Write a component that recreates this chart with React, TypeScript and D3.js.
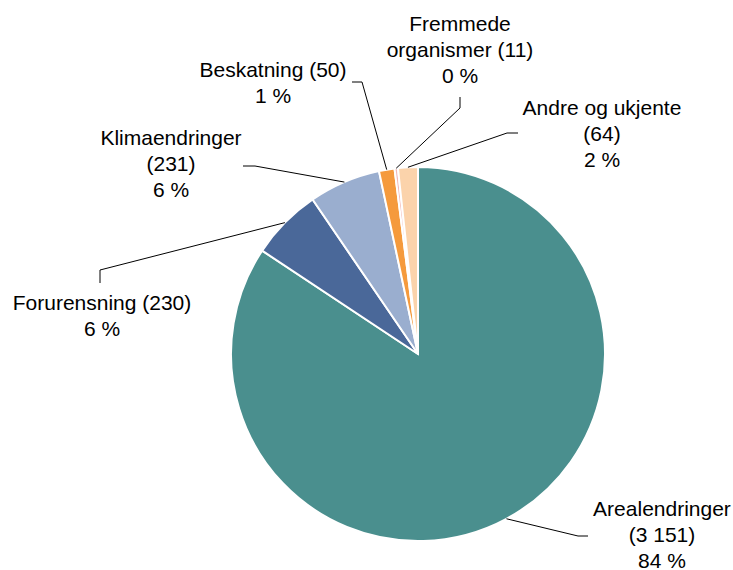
import * as d3 from "d3";

// data
const categories = [
  "Arealendringer",
  "Forurensning",
  "Klimaendringer",
  "Beskatning",
  "Fremmede organismer",
  "Andre og ukjente",
];
const counts = [3151, 230, 231, 50, 11, 64];
const colors = ["#4a8f8e", "#4a6899", "#9aaecf", "#f59a3c", "#f2b9b6", "#fbd3ab"];

// label text lines per slice
const labelLines = [
  ["Arealendringer", "(3 151)", "84 %"],
  ["Forurensning (230)", "6 %"],
  ["Klimaendringer", "(231)", "6 %"],
  ["Beskatning (50)", "1 %"],
  ["Fremmede", "organismer (11)", "0 %"],
  ["Andre og ukjente", "(64)", "2 %"],
];

// layout for leader lines / labels (elbow, end, text anchor)
const layout = [
  { elbow: [578, 536], end: [588, 536], tx: 662, ty: 516 },
  { elbow: [100, 270], end: [100, 283], tx: 102, ty: 310 },
  { elbow: [255, 166], end: [243, 166], tx: 171, ty: 145 },
  { elbow: [362, 82], end: [352, 82], tx: 273, ty: 77 },
  { elbow: [460, 108], end: [460, 97], tx: 460, ty: 31 },
  { elbow: [507, 133], end: [518, 133], tx: 602, ty: 115 },
];

const WIDTH = 733;
const HEIGHT = 570;
const CX = 418;
const CY = 354;
const R = 187;

export default function App() {
  const data = categories.map((c, i) => ({ name: c, value: counts[i], color: colors[i] }));
  const pie = d3
    .pie<any>()
    .sort(null)
    .value((d) => d.value);
  const arcs = pie(data);
  const arc = d3.arc<any>().innerRadius(0).outerRadius(R);

  return (
    <svg
      width={WIDTH}
      height={HEIGHT}
      style={{ position: "absolute", left: 0, top: 0, fontFamily: "'Liberation Sans', Arial, sans-serif" }}
    >
      <rect width={WIDTH} height={HEIGHT} fill="#fff" />
      <g transform={`translate(${CX},${CY})`}>
        {arcs.map((a, i) => (
          <path key={i} d={arc(a) as string} fill={a.data.color} stroke="#fff" strokeWidth={2} />
        ))}
      </g>
      {arcs.map((a, i) => {
        const mid = (a.startAngle + a.endAngle) / 2;
        const sx = CX + Math.sin(mid) * R;
        const sy = CY - Math.cos(mid) * R;
        const l = layout[i];
        const line = d3.line()([[sx, sy], l.elbow as [number, number], l.end as [number, number]]);
        return (
          <g key={i}>
            <path d={line as string} fill="none" stroke="#000" strokeWidth={1} />
            <text x={l.tx} y={l.ty} textAnchor="middle" fontSize={21} fill="#000">
              {labelLines[i].map((t, j) => (
                <tspan key={j} x={l.tx} dy={j === 0 ? 0 : 26}>
                  {t}
                </tspan>
              ))}
            </text>
          </g>
        );
      })}
    </svg>
  );
}
